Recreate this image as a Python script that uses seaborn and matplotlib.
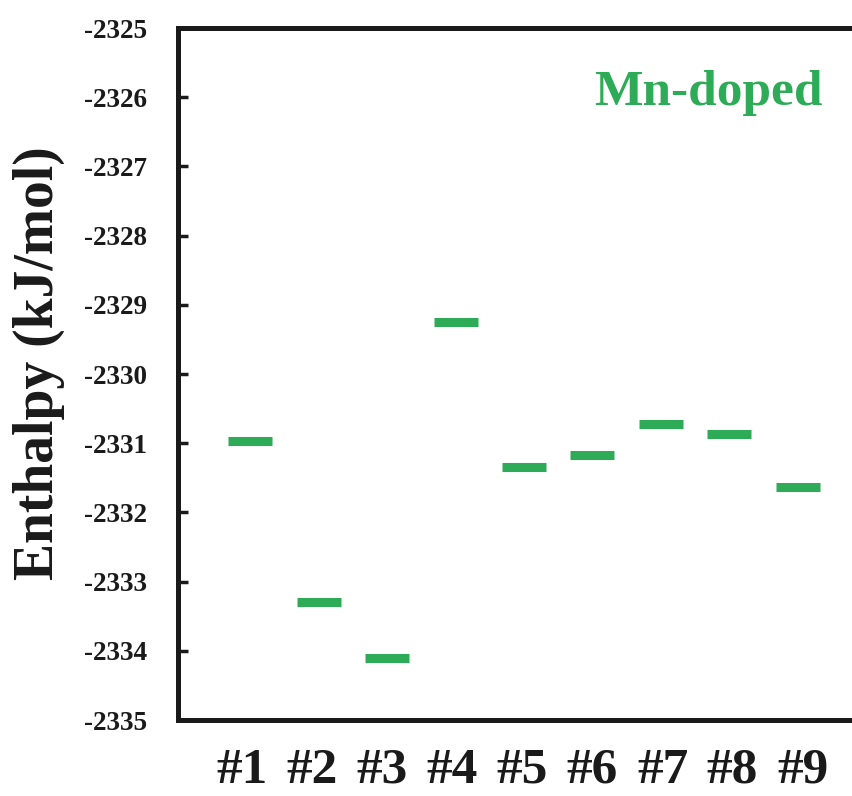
import numpy as np
import pandas as pd
import matplotlib
matplotlib.use("Agg")
import matplotlib.pyplot as plt
import seaborn as sns

# Enthalpy of each Mn-doped configuration
structures = ["#1", "#2", "#3", "#4", "#5", "#6", "#7", "#8", "#9"]
enthalpy = [-2330.97, -2333.30, -2334.10, -2329.25, -2331.34,
            -2331.17, -2330.72, -2330.87, -2331.64]
y_ticks = list(range(-2335, -2324))

GREEN = "#2EAB57"

sns.set_theme(style="ticks")
plt.rcParams["font.family"] = ["Liberation Serif", "DejaVu Serif"]
plt.rcParams["font.weight"] = "bold"
plt.rcParams["axes.unicode_minus"] = False

df = pd.DataFrame({
    "structure": structures,
    "position": np.arange(len(structures)),
    "enthalpy": enthalpy,
})

W, H = 852, 796
fig = plt.figure(figsize=(W / 100, H / 100), dpi=100)
ax = fig.add_axes([178 / W, 76 / H, 692 / W, 692 / H])

# one short horizontal level per configuration
sns.scatterplot(data=df, x="position", y="enthalpy", marker="_", s=31.7 ** 2,
                color=GREEN, linewidth=6.5, legend=False, ax=ax)

ax.set_xlim(-1.057, 9.056)
ax.set_ylim(-2335, -2325)
ax.set_xticks([])
ax.set_yticks(y_ticks)
ax.tick_params(axis="y", direction="in", length=7.5, width=2.5, pad=22,
               labelsize=19.5, colors="#1a1a1a")
for lab in ax.get_yticklabels():
    lab.set_fontweight("bold")
ax.set_xlabel("")
ax.set_ylabel("Enthalpy (kJ/mol)", fontsize=40, fontweight="bold", color="#1a1a1a")
ax.yaxis.set_label_coords(-0.163, 0.515)

for side, sp in ax.spines.items():
    sp.set_linewidth(3.6)
    sp.set_color("#1a1a1a")
ax.spines["right"].set_visible(False)

# configuration names along the bottom
ax_lab = ax.twiny()
ax_lab.xaxis.set_ticks_position("bottom")
ax_lab.xaxis.set_label_position("bottom")
ax_lab.set_xlim(-0.921, 8.964)
ax_lab.set_xticks(range(len(structures)))
ax_lab.set_xticklabels(structures, fontsize=37, fontweight="bold", color="#1a1a1a")
ax_lab.tick_params(axis="x", length=0, pad=20)
for sp in ax_lab.spines.values():
    sp.set_visible(False)

ax.text(0.767, 0.889, "Mn-doped", transform=ax.transAxes, ha="center",
        va="baseline", fontsize=37, fontweight="bold", color=GREEN)

fig.savefig("out.png", dpi=100)
